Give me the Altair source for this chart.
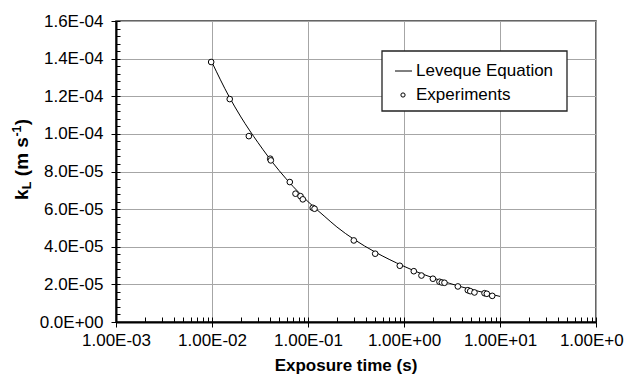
import altair as alt
import pandas as pd

# ---------------- data ----------------
exp_time = [0.0098, 0.0153, 0.0242, 0.0404, 0.0410, 0.0646, 0.0741, 0.0835, 0.0883,
            0.112, 0.117, 0.300, 0.501, 0.904, 1.265, 1.52, 2.00, 2.34, 2.48, 2.64,
            3.64, 4.62, 4.90, 5.42, 6.90, 7.29, 8.30]
exp_kl = [1.382e-4, 1.185e-4, 0.988e-4, 0.868e-4, 0.859e-4, 0.744e-4, 0.682e-4, 0.669e-4, 0.652e-4,
          0.607e-4, 0.602e-4, 0.4335e-4, 0.363e-4, 0.299e-4, 0.270e-4, 0.247e-4, 0.230e-4, 0.214e-4,
          0.210e-4, 0.2085e-4, 0.189e-4, 0.169e-4, 0.164e-4, 0.157e-4, 0.153e-4, 0.150e-4, 0.139e-4]

lev_time = [0.01, 0.015, 0.02, 0.03, 0.05, 0.07, 0.1, 0.15, 0.2, 0.3, 0.5, 0.7,
            1.0, 1.5, 2.0, 3.0, 5.0, 7.0, 10.0]
lev_kl = [1.38e-4, 1.20e-4, 1.09e-4, 0.955e-4, 0.805e-4, 0.72e-4, 0.64e-4, 0.56e-4, 0.505e-4,
          0.44e-4, 0.372e-4, 0.333e-4, 0.296e-4, 0.258e-4, 0.235e-4, 0.205e-4, 0.173e-4,
          0.155e-4, 0.136e-4]

series_names = ["Leveque Equation", "Experiments"]

x_major = [1e-3, 1e-2, 1e-1, 1e0, 1e1, 1e2]
x_minor = [m * d for d in [1e-3, 1e-2, 1e-1, 1e0, 1e1] for m in range(1, 10)] + [1e2]
y_major = [0, 2e-5, 4e-5, 6e-5, 8e-5, 1.0e-4, 1.2e-4, 1.4e-4, 1.6e-4]
y_minor = [i * 4e-6 for i in range(41)]

FONT = "Liberation Sans"

exp_df = pd.DataFrame({"t": exp_time, "k": exp_kl})
lev_df = pd.DataFrame({"t": lev_time, "k": lev_kl})

xscale = alt.Scale(type="log", domain=[1e-3, 1e2], nice=False)
yscale = alt.Scale(domain=[0, 1.6e-4], nice=False, zero=True)

x_axis_main = alt.Axis(
    orient="bottom", values=x_major,
    labelExpr="replace(replace(format(datum.value, '.2e'), 'e-', 'E-0'), 'e+', 'E+0')",
    title="Exposure time (s)", titleFont=FONT, titleFontSize=17, titleFontWeight="bold",
    titleColor="black", titleX=229.5, titleY=48, titleAlign="center", titleBaseline="alphabetic",
    labelFont=FONT, labelFontSize=17, labelColor="black", labelPadding=5,
    labelOverlap=False, labelFlush=False,
    grid=True, gridColor="#a6a6a6", gridWidth=1,
    domainColor="black", domainWidth=2, tickColor="black", tickSize=5, tickWidth=1,
)
x_axis_minor = alt.Axis(
    orient="bottom", values=x_minor, labels=False, title=None, grid=False,
    domain=False, tickColor="black", tickSize=5, tickWidth=1, offset=-5,
)
y_axis_main = alt.Axis(
    orient="left", values=y_major,
    labelExpr="replace(replace(format(datum.value, '.1e'), 'e-', 'E-0'), 'e+', 'E+0')",
    title=None,
    labelFont=FONT, labelFontSize=17, labelColor="black", labelPadding=8,
    labelOverlap=False, labelFlush=False,
    grid=True, gridColor="#a6a6a6", gridWidth=1,
    domainColor="black", domainWidth=2, tickColor="black", tickSize=5, tickWidth=1,
)
y_axis_minor = alt.Axis(
    orient="left", values=y_minor, labels=False, title=None, grid=False,
    domain=False, tickColor="black", tickSize=4, tickWidth=1, offset=-4,
)

line = alt.Chart(lev_df).mark_line(color="black", strokeWidth=1, interpolate="monotone").encode(
    x=alt.X("t:Q", scale=xscale, axis=x_axis_minor),
    y=alt.Y("k:Q", scale=yscale, axis=y_axis_minor),
)

points = alt.Chart(exp_df).mark_point(
    shape="circle", size=32, fill="white", stroke="black", strokeWidth=1, opacity=1, fillOpacity=1
).encode(
    x=alt.X("t:Q", scale=xscale, axis=x_axis_main),
    y=alt.Y("k:Q", scale=yscale, axis=y_axis_main),
)

# ---------------- legend (box, symbols, labels) ----------------
one = pd.DataFrame({"a": [0]})
leg_box = alt.Chart(one).mark_rect(fill="white", stroke="#222222", strokeWidth=1.3).encode(
    x=alt.value(266), x2=alt.value(451), y=alt.value(30), y2=alt.value(90)
)
leg_line = alt.Chart(one).mark_rule(color="black", strokeWidth=1).encode(
    x=alt.value(279), x2=alt.value(296), y=alt.value(50)
)
leg_pt = alt.Chart(one).mark_point(
    shape="circle", size=18, fill="white", stroke="black", strokeWidth=1, opacity=1
).encode(x=alt.value(287), y=alt.value(74))
leg_text = [
    alt.Chart(one).mark_text(
        align="left", baseline="middle", font=FONT, fontSize=17, color="black"
    ).encode(x=alt.value(300), y=alt.value(yy), text=alt.value(name))
    for name, yy in zip(series_names, [50, 74])
]

# ---------------- y-axis title with subscript / superscript ----------------
tx = -88.5
y0 = 179
pieces = [
    ("k", 19, 0, 0),
    ("L", 12.5, 3.5, 10.8),
    ("(m s", 19, 0, 23.8),
    ("-1", 12.5, -7, 63.4),
    (")", 19, 0, 74.8),
]
title_layers = [
    alt.Chart(one).mark_text(
        angle=270, align="left", baseline="alphabetic", font=FONT,
        fontSize=fs, fontWeight="bold", color="black",
    ).encode(x=alt.value(tx + dx), y=alt.value(y0 - dy), text=alt.value(txt))
    for txt, fs, dx, dy in pieces
]

chart = alt.layer(
    line, points, leg_box, leg_line, leg_pt, *leg_text, *title_layers
).resolve_axis(
    x="independent", y="independent"
).properties(
    width=480, height=301,
    padding={"left": 116, "top": 21, "right": 28, "bottom": 58},
    autosize=alt.AutoSizeParams(type="none"),
    background="white",
).configure_view(stroke="#333333", strokeWidth=1.5)

chart.save("out.html", embed_options={"renderer": "svg", "actions": False})
